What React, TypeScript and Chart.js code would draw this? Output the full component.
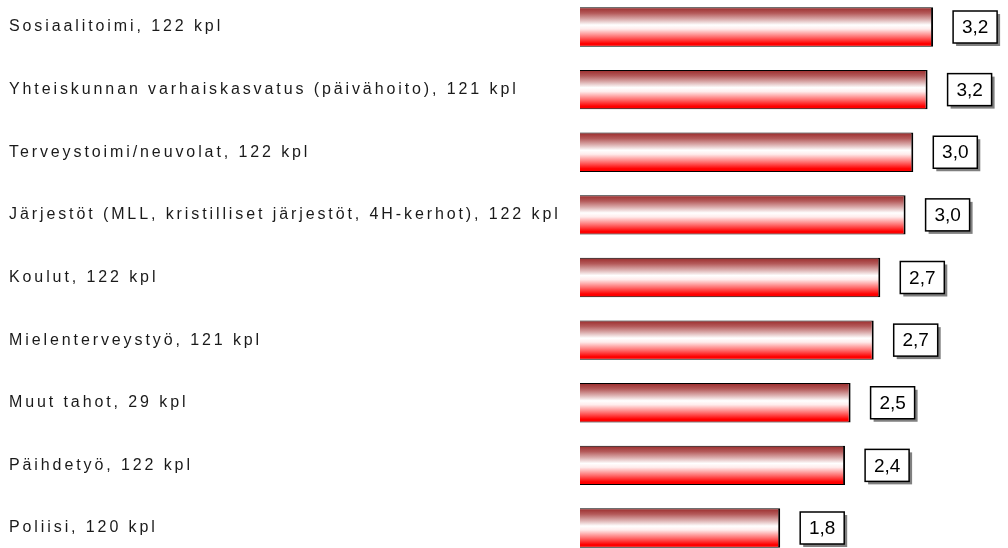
import React, { useEffect, useRef } from "react";
import { Chart, registerables } from "chart.js";

Chart.register(...registerables);

const categories = [
  "Sosiaalitoimi, 122 kpl",
  "Yhteiskunnan varhaiskasvatus (päivähoito), 121 kpl",
  "Terveystoimi/neuvolat, 122 kpl",
  "Järjestöt (MLL, kristilliset järjestöt, 4H-kerhot), 122 kpl",
  "Koulut, 122 kpl",
  "Mielenterveystyö, 121 kpl",
  "Muut tahot, 29 kpl",
  "Päihdetyö, 122 kpl",
  "Poliisi, 120 kpl",
];

const values = [3.21, 3.16, 3.03, 2.96, 2.73, 2.67, 2.46, 2.41, 1.82];

const X_MIN = 0;
const X_MAX = 3.8;
const BAR_PCT = 0.63;

const labelsPlugin = {
  id: "customLabels",
  afterDatasetsDraw(chart: any) {
    const ctx = chart.ctx;
    const meta = chart.getDatasetMeta(0);
    const yScale = chart.scales.y;
    ctx.save();
    ctx.font = "16px 'Liberation Sans', Arial, sans-serif";
    (ctx as any).letterSpacing = "2.9px";
    ctx.fillStyle = "#1a1a1a";
    ctx.textAlign = "left";
    ctx.textBaseline = "middle";
    categories.forEach((c, i) => {
      const y = yScale.getPixelForValue(i);
      ctx.fillText(c, 9, y);
    });
    (ctx as any).letterSpacing = "0px";
    ctx.font = "19px 'Liberation Sans', Arial, sans-serif";
    ctx.textAlign = "center";
    meta.data.forEach((bar: any, i: number) => {
      const w = 44;
      const h = 32;
      const left = bar.x + 20;
      const top = bar.y - h / 2;
      ctx.fillStyle = "#808080";
      ctx.fillRect(left + 3, top + 3, w, h);
      ctx.fillStyle = "#ffffff";
      ctx.fillRect(left, top, w, h);
      ctx.lineWidth = 1.5;
      ctx.strokeStyle = "#000000";
      ctx.strokeRect(left, top, w, h);
      ctx.fillStyle = "#000000";
      ctx.fillText(values[i].toFixed(1).replace(".", ","), left + w / 2, bar.y + 1);
    });
    ctx.restore();
  },
};

export default function App() {
  const ref = useRef<HTMLCanvasElement | null>(null);
  useEffect(() => {
    if (!ref.current) return;
    const chart = new Chart(ref.current, {
      type: "bar",
      data: {
        labels: categories,
        datasets: [
          {
            data: values,
            clip: false as any,
            backgroundColor: (c: any) => {
              const ch = c.chart;
              const ys = ch.scales && ch.scales.y;
              if (!ys || c.dataIndex === undefined) return "#ff0000";
              const yc = ys.getPixelForValue(c.dataIndex);
              const pitch = Math.abs(ys.getPixelForValue(1) - ys.getPixelForValue(0));
              if (!Number.isFinite(yc) || !Number.isFinite(pitch) || pitch === 0) return "#ff0000";
              const half = (pitch * BAR_PCT) / 2;
              const g = ch.ctx.createLinearGradient(0, yc - half, 0, yc + half);
              g.addColorStop(0, "#9a2a2a");
              g.addColorStop(0.15, "#b45a5a");
              g.addColorStop(0.3, "#d9a9a9");
              g.addColorStop(0.45, "#ffffff");
              g.addColorStop(0.55, "#ffecec");
              g.addColorStop(0.75, "#ff7070");
              g.addColorStop(0.92, "#ff0000");
              g.addColorStop(1, "#ff0000");
              return g;
            },
            borderColor: "#000000",
            borderWidth: { top: 1, right: 2, bottom: 1, left: 0 },
            borderSkipped: false,
            categoryPercentage: 1,
            barPercentage: BAR_PCT,
          },
        ],
      },
      options: {
        indexAxis: "y",
        responsive: false,
        animation: false,
        layout: { padding: { left: 580, right: 10, top: 27, bottom: 20 } },
        plugins: { legend: { display: false }, tooltip: { enabled: false } },
        scales: {
          x: { type: "linear", min: X_MIN, max: X_MAX, display: false },
          y: { type: "category", offset: false, display: false },
        },
      },
      plugins: [labelsPlugin],
    });
    return () => chart.destroy();
  }, []);
  return (
    <div style={{ position: "fixed", left: 0, top: 0, width: 1008, height: 548, background: "#fff" }}>
      <canvas ref={ref} width={1008} height={548} style={{ display: "block" }} />
    </div>
  );
}
